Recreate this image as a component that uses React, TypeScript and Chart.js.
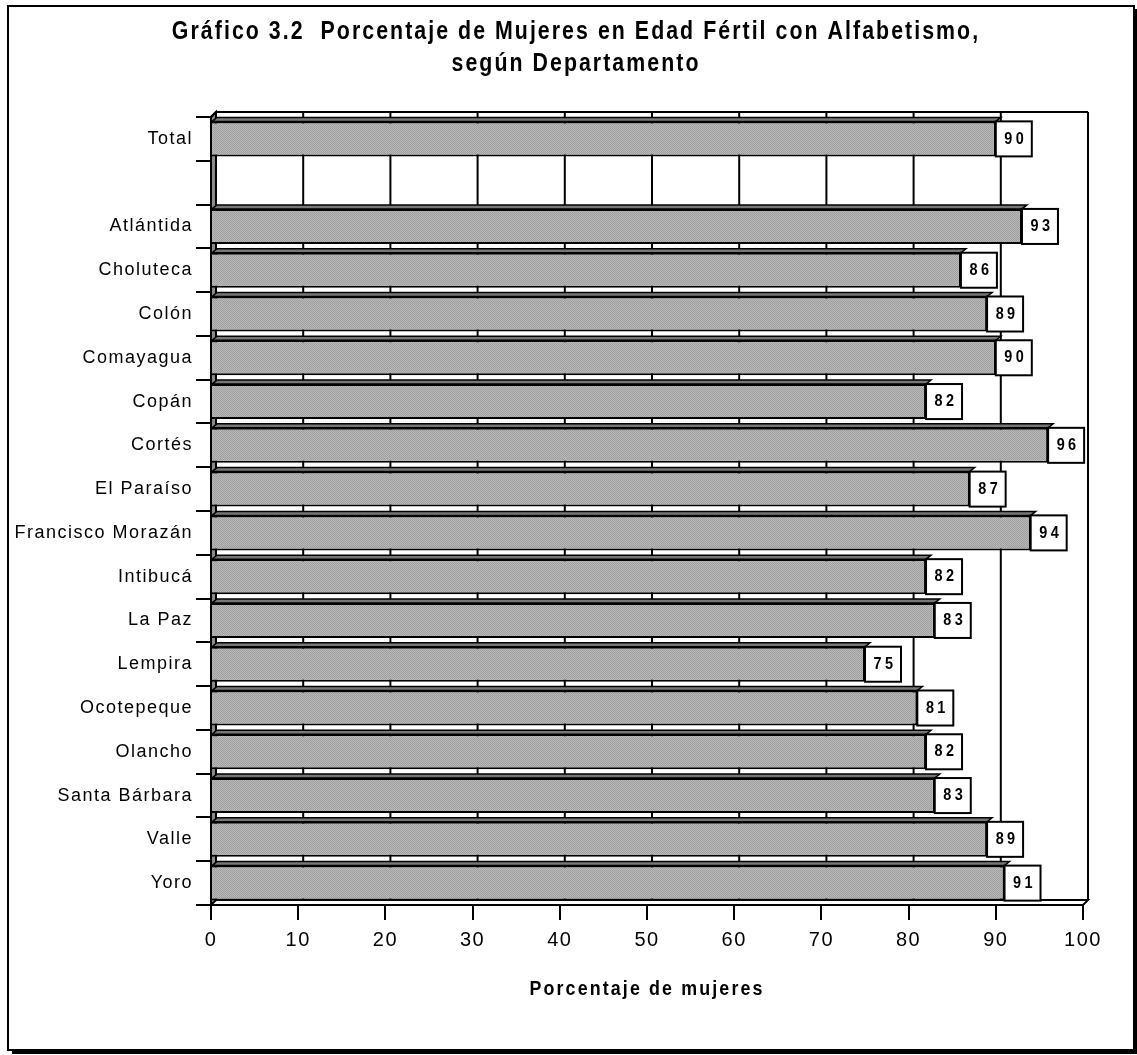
import React, { useEffect, useRef } from 'react';
import { Chart, registerables } from 'chart.js';
Chart.register(...registerables);

const FONT = "'Liberation Sans Narrow', 'Arial Narrow', 'Liberation Sans', Arial, sans-serif";

const titleLines = ['Gráfico 3.2  Porcentaje de Mujeres en Edad Fértil con Alfabetismo,', 'según Departamento'];
const xAxisTitle = 'Porcentaje de mujeres';
const departamentos = ['Total', '', 'Atlántida', 'Choluteca', 'Colón', 'Comayagua', 'Copán', 'Cortés', 'El Paraíso', 'Francisco Morazán', 'Intibucá', 'La Paz', 'Lempira', 'Ocotepeque', 'Olancho', 'Santa Bárbara', 'Valle', 'Yoro'];
const porcentajes: (number | null)[] = [90, null, 93, 86, 89, 90, 82, 96, 87, 94, 82, 83, 75, 81, 82, 83, 89, 91];
const xMin = 0;
const xMax = 100;
const xStep = 10;

function makePattern(ctx: CanvasRenderingContext2D) {
  const c = document.createElement('canvas');
  c.width = 2; c.height = 2;
  const p = c.getContext('2d')!;
  p.fillStyle = '#b8b8b8'; p.fillRect(0, 0, 2, 2);
  p.fillStyle = '#a0a0a0'; p.fillRect(0, 0, 1, 1); p.fillRect(1, 1, 1, 1);
  return ctx.createPattern(c, 'repeat')!;
}

const DEPTH_X = 5;
const DEPTH_Y = 5;

function condensedText(ctx: CanvasRenderingContext2D, text: string, cx: number, cy: number, k: number) {
  ctx.save();
  ctx.translate(cx, cy);
  ctx.scale(k, 1);
  ctx.fillText(text, 0, 0);
  ctx.restore();
}

const decor = {
  id: 'decor',
  beforeDraw(chart: any) {
    const ctx = chart.ctx as CanvasRenderingContext2D;
    const W = chart.width, H = chart.height;
    ctx.save();
    ctx.fillStyle = '#fff';
    ctx.fillRect(0, 0, W, H);
    // outer frame with shadow
    ctx.strokeStyle = '#000';
    ctx.lineWidth = 2;
    ctx.strokeRect(8, 6, 1126, 1044);
    ctx.fillStyle = '#000';
    ctx.fillRect(12, 1049, 1125, 5);
    ctx.fillRect(1133, 9, 4, 1045);
    // title
    ctx.fillStyle = '#000';
    ctx.font = `bold 26px ${FONT}`;
    (ctx as any).letterSpacing = '2.5px';
    ctx.textAlign = 'center';
    ctx.textBaseline = 'middle';
    condensedText(ctx, titleLines[0], 576, 32, 0.82);
    condensedText(ctx, titleLines[1], 576, 64, 0.82);
    ctx.restore();
    (ctx as any).letterSpacing = '1.5px';
  },
  beforeDatasetsDraw(chart: any) {
    const ctx = chart.ctx as CanvasRenderingContext2D;
    const xs = chart.scales.x;
    const area = chart.chartArea;
    const top = area.top - DEPTH_Y;
    const bottom = area.bottom - DEPTH_Y;
    ctx.save();
    ctx.strokeStyle = '#000';
    ctx.lineWidth = 2;
    // left wall
    ctx.fillStyle = '#8a8a8a';
    ctx.beginPath();
    ctx.moveTo(area.left, area.top);
    ctx.lineTo(area.left + DEPTH_X, top);
    ctx.lineTo(area.left + DEPTH_X, bottom);
    ctx.lineTo(area.left, area.bottom);
    ctx.closePath();
    ctx.fill();
    ctx.stroke();
    // back wall grid lines
    for (let v = xMin + xStep; v <= xMax; v += xStep) {
      const px = xs.getPixelForValue(v) + DEPTH_X;
      ctx.beginPath();
      ctx.moveTo(px, top);
      ctx.lineTo(px, bottom);
      ctx.stroke();
    }
    // back wall top and floor
    const rx = xs.getPixelForValue(xMax);
    ctx.beginPath();
    ctx.moveTo(area.left, area.top);
    ctx.lineTo(area.left + DEPTH_X, top);
    ctx.lineTo(rx + DEPTH_X, top);
    ctx.stroke();
    ctx.beginPath();
    ctx.moveTo(area.left + DEPTH_X, bottom);
    ctx.lineTo(rx + DEPTH_X, bottom);
    ctx.lineTo(rx, area.bottom);
    ctx.stroke();
    ctx.restore();
  },
  afterDatasetsDraw(chart: any) {
    const ctx = chart.ctx as CanvasRenderingContext2D;
    const meta = chart.getDatasetMeta(0);
    ctx.save();
    meta.data.forEach((el: any, i: number) => {
      const v = porcentajes[i];
      if (v == null) return;
      const top = el.y - el.height / 2;
      const bottom = el.y + el.height / 2;
      // top face
      ctx.fillStyle = '#777';
      ctx.strokeStyle = '#000';
      ctx.lineWidth = 1.5;
      ctx.beginPath();
      ctx.moveTo(el.base, top);
      ctx.lineTo(el.base + DEPTH_X, top - 4);
      ctx.lineTo(el.x + DEPTH_X, top - 4);
      ctx.lineTo(el.x, top);
      ctx.closePath();
      ctx.fill();
      ctx.stroke();
      // value box
      const bw = 36;
      ctx.fillStyle = '#fff';
      ctx.fillRect(el.x, top, bw, bottom - top);
      ctx.lineWidth = 2;
      ctx.strokeRect(el.x, top, bw, bottom - top);
      ctx.fillStyle = '#000';
      ctx.font = `bold 17px ${FONT}`;
      (ctx as any).letterSpacing = '4px';
      ctx.textAlign = 'center';
      ctx.textBaseline = 'middle';
      condensedText(ctx, String(v), el.x + bw / 2 + 2, el.y, 0.85);
    });
    ctx.restore();
    (ctx as any).letterSpacing = '1.5px';
  },
  afterDraw(chart: any) {
    const ctx = chart.ctx as CanvasRenderingContext2D;
    const area = chart.chartArea;
    ctx.save();
    ctx.fillStyle = '#000';
    ctx.font = `bold 21px ${FONT}`;
    (ctx as any).letterSpacing = '2.5px';
    ctx.textAlign = 'center';
    ctx.textBaseline = 'middle';
    condensedText(ctx, xAxisTitle, (area.left + area.right) / 2, 989, 0.85);
    ctx.restore();
  },
};

export default function App() {
  const ref = useRef<HTMLCanvasElement>(null);
  useEffect(() => {
    const canvas = ref.current!;
    const ctx = canvas.getContext('2d')!;
    const pattern = makePattern(ctx);
    const chart = new Chart(canvas, {
      type: 'bar',
      data: {
        labels: departamentos,
        datasets: [{
          data: porcentajes,
          backgroundColor: pattern,
          borderColor: '#000',
          borderWidth: 2,
          borderSkipped: 'start',
          barPercentage: 0.8,
          categoryPercentage: 1,
        }],
      },
      options: {
        indexAxis: 'y',
        animation: false,
        responsive: false,
        layout: { padding: { top: 117, right: 54, bottom: 0, left: 0 } },
        plugins: { legend: { display: false }, tooltip: { enabled: false }, title: { display: false } },
        scales: {
          x: {
            min: xMin, max: xMax,
            ticks: { stepSize: xStep, color: '#000', font: { family: FONT, size: 20 }, padding: 8 },
            grid: { drawOnChartArea: false, tickLength: 15, color: '#000', lineWidth: 2 },
            border: { color: '#000', width: 2 },
            afterFit(s: any) { s.height = 150; },
          },
          y: {
            ticks: { color: '#000', font: { family: FONT, size: 18 }, padding: 3, autoSkip: false },
            grid: { offset: true, drawOnChartArea: false, tickLength: 15, color: '#000', lineWidth: 2 },
            border: { color: '#000', width: 2 },
            afterFit(s: any) { s.width = 211; },
          },
        },
      },
      plugins: [decor],
    });
    return () => chart.destroy();
  }, []);
  return (
    <div style={{ position: 'absolute', left: 0, top: 0, width: 1137, height: 1055 }}>
      <canvas ref={ref} width={1137} height={1055} style={{ display: 'block' }} />
    </div>
  );
}
